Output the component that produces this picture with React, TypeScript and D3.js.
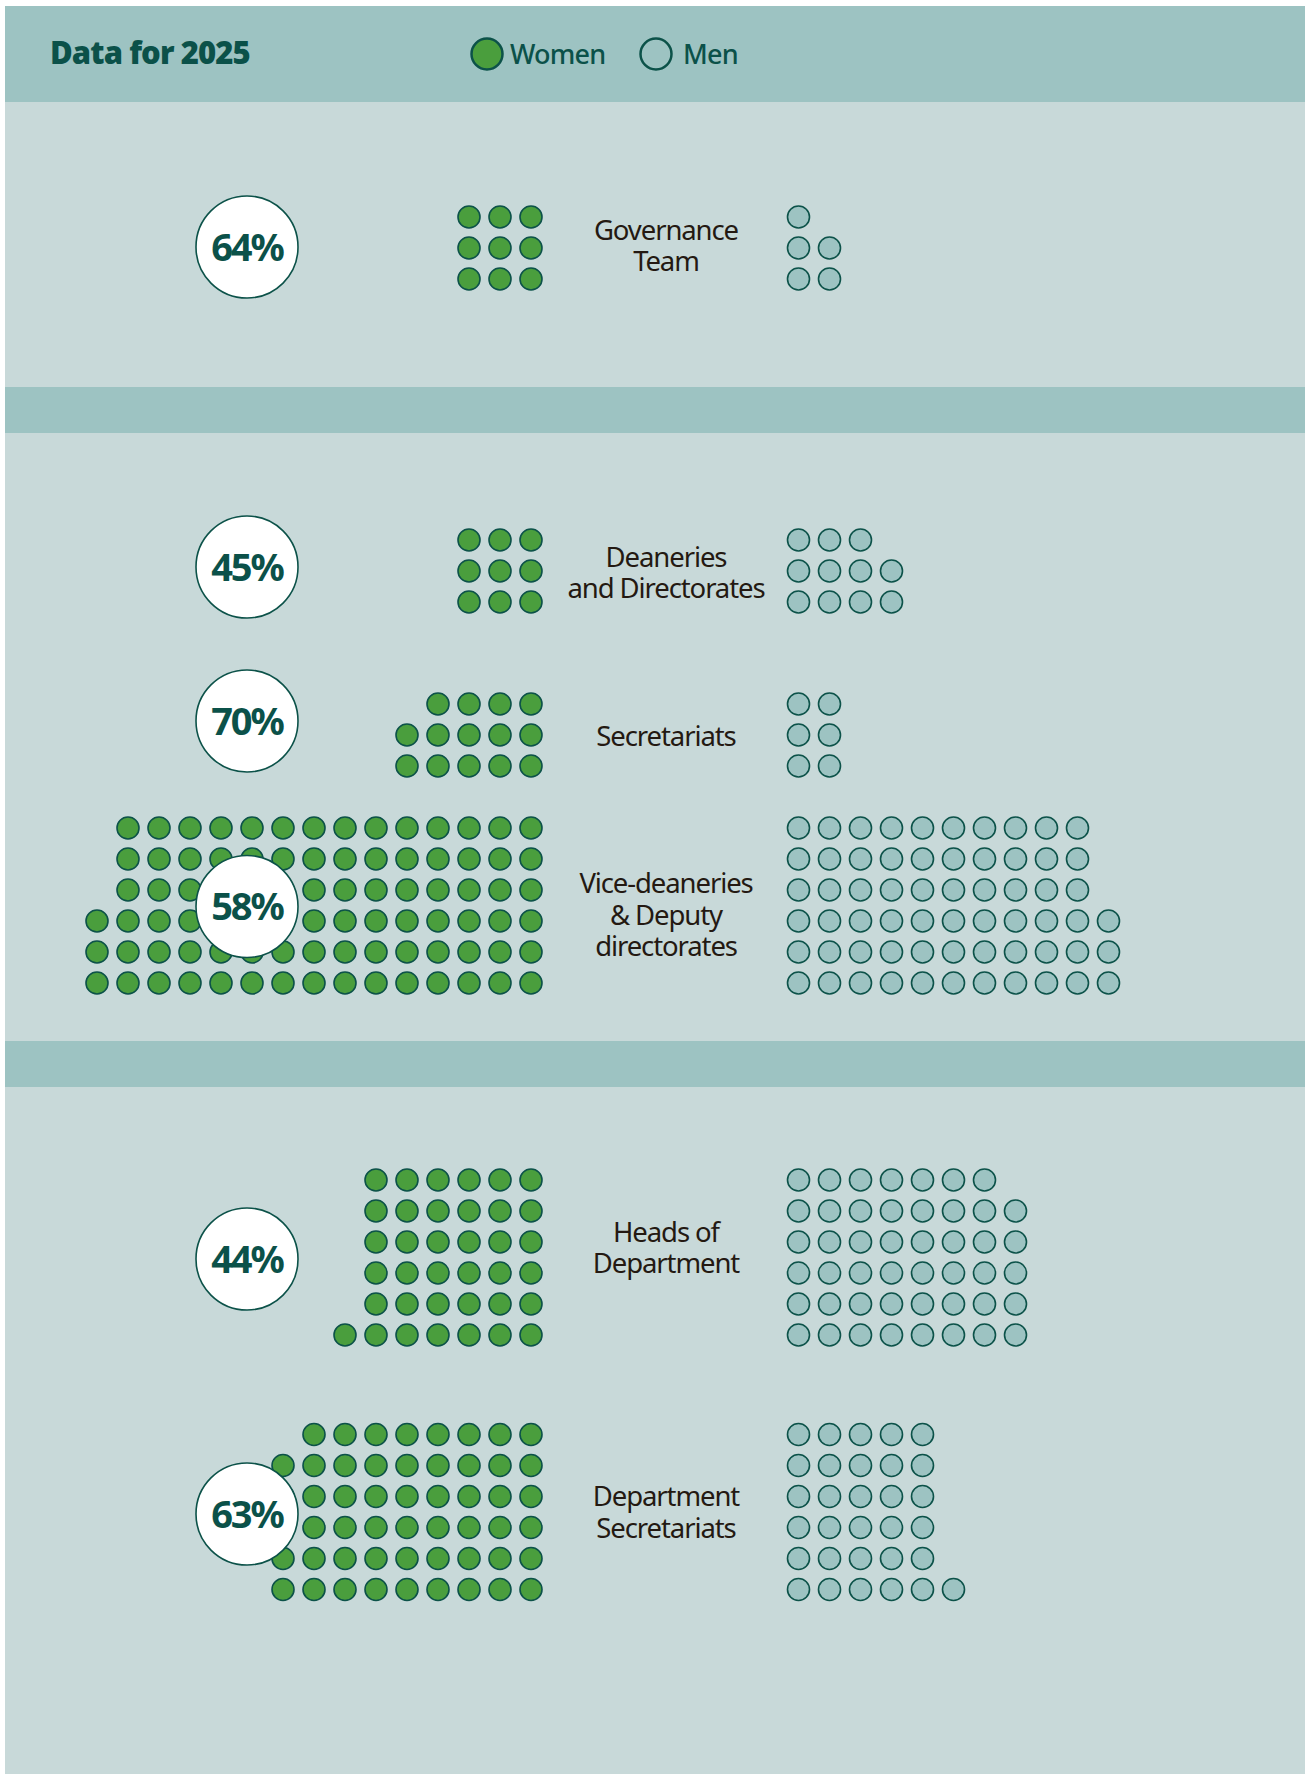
import { useEffect, useRef } from "react";
import * as d3 from "d3";

// women / men head-counts per body, read from the dot grids
const categories = [
  ["Governance", "Team"],
  ["Deaneries", "and Directorates"],
  ["Secretariats"],
  ["Vice-deaneries", "& Deputy", "directorates"],
  ["Heads of", "Department"],
  ["Department", "Secretariats"],
];
const women = [9, 9, 14, 87, 37, 53];
const men = [5, 11, 6, 63, 47, 31];
const gridRows = [3, 3, 3, 6, 6, 6];
const legendLabels = ["Women", "Men"];
const title = "Data for 2025";

// layout (not data): vertical centre of every group, section bands
const groupCenterY = [248, 571, 735, 905.5, 1257.5, 1512];
const circleShiftY = [-1, -4, -14, 1, 1.5, 2];
const labelShiftY = [-2.5, 1.5, 0.5, 9, -10, 0];
const bands = [
  { y0: 6, y1: 102, dark: true },
  { y0: 102, y1: 387, dark: false },
  { y0: 387, y1: 433, dark: true },
  { y0: 433, y1: 1041, dark: false },
  { y0: 1041, y1: 1087, dark: true },
  { y0: 1087, y1: 1774, dark: false },
];

const W = 1308;
const H = 1774;
const DARK_BG = "#9dc3c2";
const LIGHT_BG = "#c8d9d9";
const GREEN = "#4a9e3d";
const OUTLINE = "#0c5249";
const INK = "#0b5149";
const LABEL = "#241912";

const App = () => {
  const svgRef = useRef<SVGSVGElement | null>(null);

  useEffect(() => {
    const svg = d3.select(svgRef.current);
    svg.selectAll("*").remove();

    const pitch = 31;
    const dotR = 11;

    // backgrounds
    svg
      .append("g")
      .selectAll("rect")
      .data(bands)
      .join("rect")
      .attr("x", 5)
      .attr("y", (d) => d.y0)
      .attr("width", W - 8)
      .attr("height", (d) => d.y1 - d.y0)
      .attr("fill", (d) => (d.dark ? DARK_BG : LIGHT_BG));

    // header
    svg
      .append("text")
      .attr("x", 50)
      .attr("y", 64)
      .attr("font-family", "Noto Sans")
      .attr("font-weight", 900)
      .attr("font-size", 31)
      .attr("letter-spacing", -0.9)
      .attr("fill", INK)
      .text(title);

    const legendX = d3.scalePoint().domain(legendLabels).range([487, 656]);
    const legend = svg
      .append("g")
      .selectAll("g")
      .data(legendLabels)
      .join("g")
      .attr("transform", (d) => `translate(${legendX(d)},54)`);
    legend
      .append("circle")
      .attr("r", 15.5)
      .attr("fill", (d, i) => (i === 0 ? GREEN : DARK_BG))
      .attr("stroke", OUTLINE)
      .attr("stroke-width", 2.5);
    legend
      .append("text")
      .attr("x", (d, i) => (i === 0 ? 23 : 27))
      .attr("y", 10)
      .attr("font-family", "Noto Sans")
      .attr("font-weight", 500)
      .attr("font-size", 27)
      .attr("letter-spacing", -0.8)
      .attr("fill", INK)
      .text((d) => d);

    const womenX = d3.scaleLinear().domain([0, 1]).range([531, 531 - pitch]);
    const menX = d3.scaleLinear().domain([0, 1]).range([798.5, 798.5 + pitch]);

    categories.forEach((lines, gi) => {
      const rows = gridRows[gi];
      const cy = groupCenterY[gi];
      // row 0 is the bottom row
      const rowY = d3
        .scaleLinear()
        .domain([0, rows - 1])
        .range([cy + ((rows - 1) / 2) * pitch, cy - ((rows - 1) / 2) * pitch]);

      const g = svg.append("g");

      const cells = (n: number) =>
        d3.range(n).map((i) => ({ col: Math.floor(i / rows), row: i % rows }));

      g.append("g")
        .selectAll("circle")
        .data(cells(women[gi]))
        .join("circle")
        .attr("cx", (d) => womenX(d.col))
        .attr("cy", (d) => rowY(d.row))
        .attr("r", dotR)
        .attr("fill", GREEN)
        .attr("stroke", OUTLINE)
        .attr("stroke-width", 1.6);

      g.append("g")
        .selectAll("circle")
        .data(cells(men[gi]))
        .join("circle")
        .attr("cx", (d) => menX(d.col))
        .attr("cy", (d) => rowY(d.row))
        .attr("r", dotR)
        .attr("fill", DARK_BG)
        .attr("stroke", OUTLINE)
        .attr("stroke-width", 1.6);

      // label, one text per line
      const lineH = 31.5;
      const ly = cy + labelShiftY[gi];
      g.append("g")
        .selectAll("text")
        .data(lines)
        .join("text")
        .attr("x", 666)
        .attr("y", (d, i) => ly + (i - (lines.length - 1) / 2) * lineH + 10)
        .attr("text-anchor", "middle")
        .attr("font-family", "Noto Sans")
        .attr("font-size", 27.5)
        .attr("letter-spacing", -1.1)
        .attr("fill", LABEL)
        .text((d) => d);

      // percentage badge
      const pct = Math.round((women[gi] / (women[gi] + men[gi])) * 100);
      const by = cy + circleShiftY[gi];
      g.append("circle")
        .attr("cx", 247)
        .attr("cy", by)
        .attr("r", 51)
        .attr("fill", "#ffffff")
        .attr("stroke", OUTLINE)
        .attr("stroke-width", 1.6);
      g.append("text")
        .attr("x", 247)
        .attr("y", by + 13.5)
        .attr("text-anchor", "middle")
        .attr("font-family", "Noto Sans")
        .attr("font-weight", 700)
        .attr("font-size", 38)
        .attr("letter-spacing", -2)
        .attr("fill", INK)
        .text(`${pct}%`);
    });
  }, []);

  return (
    <div style={{ position: "absolute", left: 0, top: 0, width: W, height: H, background: "#ffffff" }}>
      <svg ref={svgRef} width={W} height={H} style={{ display: "block" }}></svg>
    </div>
  );
};

export default App;
